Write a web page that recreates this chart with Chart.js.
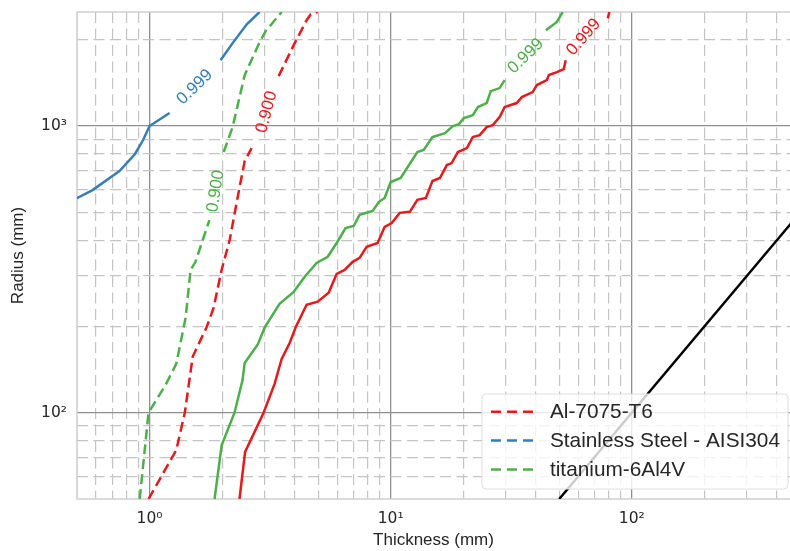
<!DOCTYPE html>
<html>
<head>
<meta charset="utf-8">
<title>Thickness vs radius</title>
<script src="https://cdn.jsdelivr.net/npm/chart.js@4"></script>
<style>
  html, body { margin: 0; padding: 0; background: #fff; }
  #wrap { width: 790px; height: 551px; }
</style>
</head>
<body>
<div id="wrap"><canvas id="graph" width="790" height="551"></canvas></div>
<script>
// axis ticks (log-log)
const xMajorTicks = [1, 10, 100];
const xMajorLabels = ['10⁰', '10¹', '10²'];
const xMinorTicks = [0.6, 0.7, 0.8, 0.9, 2, 3, 4, 5, 6, 7, 8, 9, 20, 30, 40, 50, 60, 70, 80, 90, 200, 300, 400];
const yMajorTicks = [100, 1000];
const yMajorLabels = ['10²', '10³'];
const yMinorTicks = [60, 70, 80, 90, 200, 300, 400, 500, 600, 700, 800, 900, 2000];

// Al-7075-T6 contours (null = break for inline label)
const alThick900 = [0.99, 1.29, 1.40, 1.51, 1.72, 1.84, 1.99, 2.15, 2.32, 2.48, 2.65, 3.0, 3.43, 3.96, 4.48, 4.66, 4.98];
const alRad900 = [50, 74, 100, 157, 198, 231, 315, 401, 566, 755, 838, null, 1494, 1916, 2340, 2455, 2500];
const alThick999 = [2.36, 2.49, 2.97, 3.30, 3.53, 3.81, 4.04, 4.48, 4.98, 5.53, 5.97, 6.44, 6.96, 7.43, 7.95, 8.83, 9.44, 10.1, 10.9, 12.0, 12.9, 14.0, 14.9, 16.0, 17.1, 17.9, 19.0, 20.7, 21.9, 23.4, 25.0, 26.5, 28.3, 29.7, 33.3, 35.0, 38.8, 40.4, 44.4, 45.3, 48.9, 52.2, 53.2, 65, 79.5, 80.7];
const alRad999 = [50, 73, 100, 126, 154, 175, 199, 238, 244, 262, 305, 315, 336, 347, 379, 391, 445, 459, 498, 502, 553, 561, 643, 659, 731, 743, 812, 838, 915, 930, 992, 1008, 1075, 1165, 1203, 1262, 1314, 1390, 1446, 1506, 1542, 1580, 1698, null, 2378, 2500];

// Stainless Steel - AISI304 (only the 0.999 level falls inside the axes)
const ssThick999 = [0.49, 0.58, 0.75, 0.87, 0.94, 1.0, 1.21, 1.5, 1.97, 2.21, 2.53, 2.86];
const ssRad999 = [556, 598, 697, 799, 894, 1000, 1110, null, 1698, 1947, 2266, 2500];

// titanium-6Al4V
const tiThick900 = [0.91, 0.99, 1.165, 1.29, 1.41, 1.48, 1.55, 1.77, 1.9, 2.03, 2.21, 2.48, 2.86, 3.03, 3.53];
const tiRad900 = [50, 100, 125, 148, 214, 315, 336, 470, null, 812, 992, 1506, 1962, 2143, 2500];
const tiThick999 = [1.86, 1.99, 2.25, 2.43, 2.48, 2.81, 3.0, 3.46, 3.96, 4.40, 4.93, 5.48, 5.97, 6.50, 7.02, 7.43, 8.42, 8.92, 9.44, 10.0, 11.0, 12.9, 13.7, 14.9, 16.8, 18.1, 19.2, 20.1, 21.9, 23.0, 25.0, 26.0, 28.3, 29.7, 37, 44.0, 48.8, 51.7];
const tiRad999 = [50, 77, 100, 130, 149, 173, 198, 240, 264, 298, 333, 350, 391, 441, 448, 490, 506, 543, 561, 638, 659, 812, 825, 915, 945, 1000, 1016, 1066, 1092, 1165, 1203, 1324, 1357, 1446, null, 2160, 2303, 2500];

// radius = thickness reference line
const limitThick = [50, 460];
const limitRad = [50, 460];

// inline contour labels
const labelTexts = ['0.999', '0.900', '0.900', '0.999', '0.999'];
const labelThick = [1.54, 1.88, 3.06, 36.3, 63.2];
const labelRad = [1367, 593, 1119, 1753, 2042];
const labelAngles = [-44, -81, -75, -44, -49];

const legendLabels = ['Al-7075-T6', 'Stainless Steel - AISI304', 'titanium-6Al4V'];

const RED = '#e41a1c';
const BLUE = '#377eb8';
const GREEN = '#4daf4a';
const legendColors = [RED, BLUE, GREEN];
const labelColors = [BLUE, GREEN, RED, GREEN, RED];

const TEXT = '#262626';
const MAJOR_GRID = '#8f8f8f';
const MINOR_GRID = '#c4c4c4';
const SANS = '"Liberation Sans", Arial, sans-serif';

function toPoints(xs, ys) {
    return xs.map((x, i) => ({x: x, y: ys[i]}));
}

function contour(xs, ys, color, dashed) {
    return {
        data: toPoints(xs, ys),
        borderColor: color,
        borderWidth: 2.5,
        borderDash: dashed ? [10, 5] : [],
        pointRadius: 0,
        tension: 0,
        fill: false,
        spanGaps: false
    };
}

function tickList(minor, major) {
    return minor.concat(major).sort((a, b) => a - b).map(v => ({value: v, major: major.includes(v)}));
}

function isMajorTick(ctx) {
    return !!(ctx.tick && ctx.tick.major);
}

// light frame round the plot area
const framePlugin = {
    id: 'frame',
    beforeDatasetsDraw(chart) {
        const {ctx, chartArea: a} = chart;
        ctx.save();
        ctx.strokeStyle = '#cfcfcf';
        ctx.lineWidth = 1.6;
        ctx.beginPath();
        ctx.moveTo(a.right + 2, a.top);
        ctx.lineTo(a.left, a.top);
        ctx.lineTo(a.left, a.bottom);
        ctx.lineTo(a.right + 2, a.bottom);
        ctx.stroke();
        ctx.restore();
    }
};

// contour level labels sitting in the line breaks
const levelLabelPlugin = {
    id: 'levelLabels',
    afterDatasetsDraw(chart) {
        const {ctx, scales} = chart;
        ctx.save();
        ctx.font = '17px ' + SANS;
        ctx.textAlign = 'center';
        ctx.textBaseline = 'middle';
        labelTexts.forEach((text, i) => {
            const px = scales.x.getPixelForValue(labelThick[i]);
            const py = scales.y.getPixelForValue(labelRad[i]);
            ctx.save();
            ctx.translate(px, py);
            ctx.rotate(labelAngles[i] * Math.PI / 180);
            ctx.fillStyle = labelColors[i];
            ctx.fillText(text, 0, 0);
            ctx.restore();
        });
        ctx.restore();
    }
};

// legend box in the lower right corner of the axes
const cornerLegendPlugin = {
    id: 'cornerLegend',
    afterDatasetsDraw(chart) {
        const {ctx, chartArea} = chart;
        ctx.save();
        ctx.font = '20.8px ' + SANS;
        const textW = Math.max(...legendLabels.map(t => ctx.measureText(t).width));
        const w = 9 + 42 + 17 + textW + 8;
        const h = 95;
        const x0 = chartArea.right - 2 - w;
        const y0 = chartArea.bottom - 10 - h;

        ctx.beginPath();
        if (ctx.roundRect) {
            ctx.roundRect(x0, y0, w, h, 4);
        } else {
            ctx.rect(x0, y0, w, h);
        }
        ctx.fillStyle = 'rgba(255, 255, 255, 0.8)';
        ctx.fill();
        ctx.strokeStyle = '#dedede';
        ctx.lineWidth = 1;
        ctx.stroke();

        ctx.textAlign = 'left';
        ctx.textBaseline = 'middle';
        legendLabels.forEach((label, i) => {
            const cy = y0 + 17.7 + i * 28.9;
            ctx.strokeStyle = legendColors[i];
            ctx.lineWidth = 2.5;
            ctx.setLineDash([10, 6]);
            ctx.beginPath();
            ctx.moveTo(x0 + 9, cy);
            ctx.lineTo(x0 + 51, cy);
            ctx.stroke();
            ctx.setLineDash([]);
            ctx.fillStyle = TEXT;
            ctx.fillText(label, x0 + 68, cy + 1);
        });
        ctx.restore();
    }
};

const canvas = document.getElementById('graph');

const data = {
    datasets: [
        contour(alThick900, alRad900, RED, true),
        contour(alThick999, alRad999, RED, false),
        contour(ssThick999, ssRad999, BLUE, false),
        contour(tiThick900, tiRad900, GREEN, true),
        contour(tiThick999, tiRad999, GREEN, false),
        {
            data: toPoints(limitThick, limitRad),
            borderColor: '#000000',
            borderWidth: 2.5,
            pointRadius: 0,
            tension: 0,
            fill: false
        }
    ]
};

const tickFont = {family: '"DejaVu Sans", sans-serif', size: 15.5};

const options = {
    responsive: false,
    animation: false,
    events: [],
    layout: {padding: {top: 12, right: 0, left: 0, bottom: 0}},
    plugins: {
        legend: {display: false},
        tooltip: {enabled: false}
    },
    scales: {
        x: {
            type: 'logarithmic',
            position: 'bottom',
            min: 0.5,
            max: 453,
            afterBuildTicks: axis => { axis.ticks = tickList(xMinorTicks, xMajorTicks); },
            afterFit: axis => {
                axis.height = 52;
                axis.paddingLeft = 0;
                axis.paddingRight = 0;
            },
            grid: {
                drawTicks: false,
                color: ctx => isMajorTick(ctx) ? MAJOR_GRID : MINOR_GRID,
                lineWidth: ctx => isMajorTick(ctx) ? 1.3 : 1.2
            },
            border: {
                display: false,
                dash: ctx => isMajorTick(ctx) ? [] : [11, 5.5]
            },
            ticks: {
                autoSkip: false,
                maxRotation: 0,
                padding: 11,
                color: TEXT,
                font: tickFont,
                callback: value => {
                    const i = xMajorTicks.indexOf(value);
                    return i >= 0 ? xMajorLabels[i] : '';
                }
            },
            title: {
                display: true,
                text: 'Thickness (mm)',
                color: TEXT,
                font: {family: SANS, size: 17},
                padding: {top: 0, bottom: 0}
            }
        },
        y: {
            type: 'logarithmic',
            position: 'left',
            min: 50,
            max: 2500,
            afterBuildTicks: axis => { axis.ticks = tickList(yMinorTicks, yMajorTicks); },
            afterFit: axis => {
                axis.width = 77;
                axis.paddingTop = 0;
                axis.paddingBottom = 0;
            },
            grid: {
                drawTicks: false,
                color: ctx => isMajorTick(ctx) ? MAJOR_GRID : MINOR_GRID,
                lineWidth: ctx => isMajorTick(ctx) ? 1.3 : 1.2
            },
            border: {
                display: false,
                dash: ctx => isMajorTick(ctx) ? [] : [11, 5.5]
            },
            ticks: {
                autoSkip: false,
                padding: 10,
                color: TEXT,
                font: tickFont,
                callback: value => {
                    const i = yMajorTicks.indexOf(value);
                    return i >= 0 ? yMajorLabels[i] : '';
                }
            },
            title: {
                display: true,
                text: 'Radius (mm)',
                color: TEXT,
                font: {family: SANS, size: 17},
                padding: {top: 8, bottom: 0}
            }
        }
    }
};

const chart = new Chart(canvas, {
    type: 'line',
    data: data,
    options: options,
    plugins: [framePlugin, levelLabelPlugin, cornerLegendPlugin]
});
</script>
</body>
</html>
